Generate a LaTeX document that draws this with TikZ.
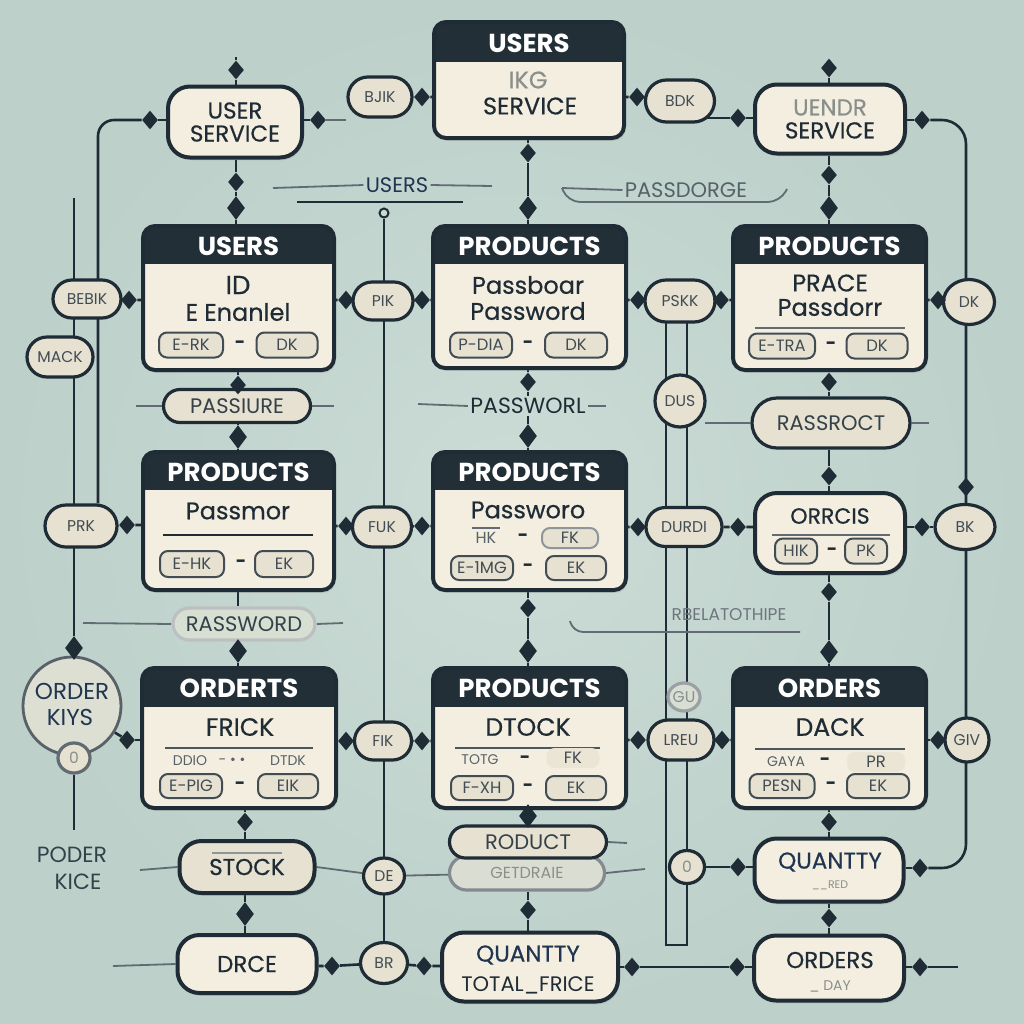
\documentclass[tikz,border=0pt]{standalone}
\usepackage{fontspec}
\setmainfont{Poppins}
\newfontfamily\pmed{Poppins}[FakeBold=0.5]
\usetikzlibrary{shapes.geometric,shapes.misc,shadows}
\definecolor{bgc}{HTML}{C9DAD4}
\definecolor{bgo}{HTML}{BDD0CA}
\definecolor{cream}{HTML}{F4EEE0}
\definecolor{keyc}{HTML}{E6E1D1}
\definecolor{hdr}{HTML}{232F37}
\definecolor{ink}{HTML}{1F2C35}
\definecolor{navy}{HTML}{1F3550}
\definecolor{faint}{HTML}{8A8F8C}
\pgfdeclarelayer{back}
\pgfdeclarelayer{lines}
\pgfsetlayers{back,lines,main}
\newcommand\mktable[7]{%
  \node[tblbox, minimum width={(#4-#2)*0.5pt}, minimum height={(#5-#3)*0.5pt}] (#1) at ({(#2+#4)/2},{(#3+#5)/2}) {};
  \begin{scope}
    \clip[rounded corners=6pt] (#2,#3) rectangle (#4,#5);
    \fill[hdr] (#2,#3) rectangle (#4,#6);
  \end{scope}
  \draw[ink, line width=2pt, rounded corners=6pt] (#2,#3) rectangle (#4,#5);
  \node[hdrtext] (#1h) at ({(#2+#4)/2},{(#3+#6)/2+1}) {#7};
}
\begin{document}
\begin{tikzpicture}[x=0.5pt,y=-0.5pt,
  sz/.style 2 args={minimum width=#1*0.5pt, minimum height=#2*0.5pt},
  conn/.style={draw=ink, line width=1.3pt},
  lite/.style={draw=ink!70, line width=0.9pt},
  dia/.style={diamond, fill=ink, inner sep=0pt, minimum width=8pt, minimum height=9.5pt},
  tip/.style={diamond, fill=ink, inner sep=0pt, minimum width=9pt, minimum height=12pt},
  tblbox/.style={rectangle, fill=cream, rounded corners=6pt, inner sep=0pt, drop shadow={opacity=0.2, shadow xshift=0.8pt, shadow yshift=-1.4pt}},
  hdrtext/.style={text=white, font=\fontsize{13}{14}\selectfont\bfseries, inner sep=0pt},
  btext/.style={text=ink, font=\pmed\fontsize{12}{13}\selectfont, inner sep=0pt},
  dashtxt/.style={text=ink, font=\fontsize{9}{10}\selectfont\bfseries, inner sep=0pt},
  bigpill/.style={rectangle, rounded corners=11pt, draw=ink, line width=2pt, fill=cream, inner sep=0pt, align=center, text=ink, font=\pmed\fontsize{11.5}{11.5}\selectfont, drop shadow={opacity=0.2, shadow xshift=0.8pt, shadow yshift=-1.4pt}},
  midpill/.style={rounded rectangle, draw=ink, line width=1.6pt, fill=keyc, inner sep=0pt, text=ink!90, font=\fontsize{10.5}{11}\selectfont},
  spill/.style={rounded rectangle, draw=ink, line width=1.6pt, fill=keyc, inner sep=0pt, text=ink!85, font=\fontsize{7.8}{8}\selectfont},
  scirc/.style={ellipse, draw=ink, line width=1.6pt, fill=keyc, inner sep=0pt, text=ink!85, font=\fontsize{7.8}{8}\selectfont},
  kpill/.style={rectangle, rounded corners=4pt, draw=ink!85, line width=1pt, fill=keyc, inner sep=0pt, text=ink!85, font=\fontsize{8.2}{9}\selectfont},
  ktext/.style={inner sep=0pt, text=ink!75, font=\fontsize{7}{8}\selectfont},
  lbl/.style={inner sep=1pt, text=navy, font=\fontsize{10.5}{11}\selectfont},
]
\begin{pgfonlayer}{back}
  \shade[inner color=bgc!95!white, outer color=bgo] (0,0) rectangle (1024,1024);
\end{pgfonlayer}
\useasboundingbox (0,0) rectangle (1024,1024);

% ---------- tables ----------
\mktable{ta}{434}{22}{624}{138}{62}{USERS}
\mktable{tb}{143}{226}{334}{370}{264}{USERS}
\mktable{tc}{433}{226}{626}{368}{264}{PRODUCTS}
\mktable{td}{733}{226}{926}{370}{264}{PRODUCTS}
\mktable{te}{143}{452}{334}{590}{490}{PRODUCTS}
\mktable{tf}{433}{452}{626}{590}{490}{PRODUCTS}
\mktable{tg}{142}{668}{336}{808}{707}{ORDERTS}
\mktable{th}{433}{668}{626}{808}{707}{PRODUCTS}
\mktable{ti}{733}{668}{926}{808}{707}{ORDERS}

% table contents
\node[btext, text=faint] (ta1) at (528,80) {IKG};
\node[btext] (ta2) at (530,106) {SERVICE};

\node[btext, font=\pmed\fontsize{13}{14}\selectfont] (tb1) at (238,285) {ID};
\node[btext] (tb2) at (238,312) {E Enanlel};
\node[kpill, sz={64}{25}] (tb3) at (191,345) {E-RK};
\node[dashtxt] (tb4) at (240,345) {-};
\node[kpill, sz={61}{25}] (tb5) at (287,345) {DK};

\node[btext] (tc1) at (528,285) {Passboar};
\node[btext] (tc2) at (528,311) {Password};
\node[kpill, sz={62}{25}] (tc3) at (481,345) {P-DIA};
\node[dashtxt] (tc4) at (528,345) {-};
\node[kpill, sz={62}{25}] (tc5) at (576,345) {DK};

\node[btext] (td1) at (830,283) {PRACE};
\node[btext] (td2) at (830,307) {Passdorr};
\draw[lite] (755,328) -- (905,328);
\node[kpill, sz={66}{25}] (td3) at (782,346) {E-TRA};
\node[dashtxt] (td4) at (831,346) {-};
\node[kpill, sz={61}{25}] (td5) at (877,346) {DK};

\node[btext] (te1) at (238,511) {Passmor};
\draw[ink, line width=1.2pt] (163,535) -- (313,535);
\node[kpill, sz={64}{26}] (te2) at (192,564) {E-HK};
\node[dashtxt] (te3) at (241,564) {-};
\node[kpill, sz={58}{26}] (te4) at (284,564) {EK};

\node[btext] (tf1) at (528,510) {Passworo};
\draw[lite] (472,528) -- (500,528);
\node[ktext, font=\fontsize{8}{9}\selectfont] (tf2) at (486,538) {HK};
\node[dashtxt] (tf3) at (523,538) {-};
\node[kpill, draw=ink!50, sz={56}{20}] (tf4) at (570,538) {FK};
\node[kpill, sz={62}{24}] (tf5) at (482,568) {E-1MG};
\node[dashtxt] (tf6) at (528,568) {-};
\node[kpill, sz={60}{24}] (tf7) at (576,568) {EK};

\node[btext, font=\pmed\fontsize{12.5}{13}\selectfont] (tg1) at (240,727) {FRICK};
\draw[ink!80, line width=1pt] (165,748) -- (313,748);
\node[ktext] (tg2) at (190,761) {DDIO};
\node[ktext] (tg3) at (232,761) {- • •};
\node[ktext] (tg4) at (288,761) {DTDK};
\node[kpill, sz={62}{24}] (tg5) at (191,786) {E-PIG};
\node[dashtxt] (tg6) at (240,786) {-};
\node[kpill, sz={60}{24}] (tg7) at (288,786) {EIK};

\node[btext, font=\pmed\fontsize{12.5}{13}\selectfont] (th1) at (528,727) {DTOCK};
\draw[ink!80, line width=1pt] (455,748) -- (600,748);
\node[ktext] (th2) at (480,760) {TOTG};
\node[dashtxt] (th3) at (525,760) {-};
\node[kpill, draw=none, fill=keyc!70!cream, sz={53}{20}] (th4) at (573,758) {FK};
\node[kpill, sz={62}{24}] (th5) at (482,788) {F-XH};
\node[dashtxt] (th6) at (528,788) {-};
\node[kpill, sz={60}{24}] (th7) at (576,788) {EK};

\node[btext, font=\pmed\fontsize{12.5}{13}\selectfont] (ti1) at (830,727) {DACK};
\draw[ink!80, line width=1pt] (755,749) -- (905,749);
\node[ktext] (ti2) at (786,762) {GAYA};
\node[dashtxt] (ti3) at (825,762) {-};
\node[kpill, draw=none, fill=keyc!70!cream, sz={58}{20}] (ti4) at (876,762) {PR};
\node[kpill, sz={65}{24}] (ti5) at (782,786) {PESN};
\node[dashtxt] (ti6) at (831,786) {-};
\node[kpill, sz={62}{24}] (ti7) at (878,786) {EK};

% ---------- big pills ----------
\node[bigpill, sz={134}{71}] (pus) at (235,122) {USER\\SERVICE};
\node[bigpill, sz={150}{69}] (prs) at (830,119) {\textcolor{faint}{UENDR}\\SERVICE};
\node[bigpill, sz={150}{80}] (pord) at (830,533) {};
\node[btext, font=\pmed\fontsize{11}{12}\selectfont] (po1) at (830,516) {ORRCIS};
\draw[lite] (772,535) -- (890,535);
\node[kpill, sz={42}{25}] (po2) at (796,551) {HIK};
\node[dashtxt] (po3) at (832,552) {-};
\node[kpill, sz={42}{25}] (po4) at (866,551) {PK};
\node[bigpill, sz={149}{63}] (pqu) at (829,870) {};
\node[btext, text=navy, font=\pmed\fontsize{11.5}{12}\selectfont] (pq1) at (830,862) {QUANTTY};
\node[ktext, text=faint, font=\fontsize{5.5}{6}\selectfont] (pq2) at (830,885) {\_\_RED};
\node[bigpill, sz={150}{65}] (pos) at (829,968) {};
\node[btext, font=\pmed\fontsize{11.5}{12}\selectfont] (pos1) at (830,960) {ORDERS};
\node[ktext, text=faint] (pos2) at (830,986) {\_ DAY};
\node[bigpill, sz={176}{69}] (pqt) at (530,967) {};
\node[btext, text=navy, font=\pmed\fontsize{11.5}{12}\selectfont] (pt1) at (528,955) {QUANTTY};
\node[btext, font=\fontsize{10.5}{11}\selectfont] (pt2) at (528,985) {TOTAL\_FRICE};
\node[bigpill, sz={139}{58}] (pdr) at (247,964) {DRCE};
\node[bigpill, fill=keyc, sz={135}{52}] (pst) at (247,867) {STOCK};
\draw[lite, draw=ink!50] (212,853) -- (282,853);
\node[midpill, draw=ink!55, fill=keyc!60!bgc, sz={155}{34}, text=faint, font=\fontsize{8}{9}\selectfont] (prd2) at (527,873) {GETDRAIE};
\node[midpill, fill=keyc, sz={157}{32}, font=\fontsize{10.5}{11}\selectfont] (prd) at (528,842) {RODUCT};

% ---------- label pills ----------
\node[midpill, sz={147}{33}] (lpa) at (237,406) {PASSIURE};
\node[midpill, sz={158}{50}] (lra) at (831,423) {RASSROCT};
\node[midpill, draw=ink!30, fill=keyc!50!bgc, sz={142}{32}] (lrw) at (244,624) {RASSWORD};

% ---------- small key pills ----------
\node[spill, sz={64}{40}] (sbjik) at (380,97) {BJIK};
\node[spill, sz={69}{42}] (sbdk) at (680,101) {BDK};
\node[spill, sz={68}{38}] (sbebik) at (87,299) {BEBIK};
\node[spill, sz={66}{40}] (smack) at (60,357) {MACK};
\node[spill, sz={60}{38}] (spik) at (383,301) {PIK};
\node[spill, sz={70}{42}] (spskk) at (680,301) {PSKK};
\node[spill, sz={72}{42}] (sprk) at (81,526) {PRK};
\node[spill, sz={59}{40}] (sfuk) at (382,527) {FUK};
\node[spill, sz={76}{39}] (sdurdi) at (684,527) {DURDI};
\node[spill, sz={57}{38}] (sfik) at (383,741) {FIK};
\node[spill, sz={66}{40}] (slreu) at (681,740) {LREU};

% ---------- circles ----------
\node[scirc, sz={51}{45}] (cdk) at (969,302) {DK};
\node[scirc, sz={50}{52}] (cdus) at (680,401) {DUS};
\node[scirc, sz={60}{45}] (cbk) at (965,527) {BK};
\node[scirc, sz={44}{44}] (cgiv) at (967,740) {GIV};
\node[scirc, draw=ink!45, fill=keyc!50!bgc, text=faint, sz={32}{28}] (cgu) at (684,697) {GU};
\node[scirc, sz={41}{36}] (cde) at (384,876) {DE};
\node[scirc, sz={47}{41}] (cbr) at (384,963) {BR};
\node[scirc, text=faint, sz={35}{33}] (czero) at (687,867) {0};
\node[circle, draw=ink!75, line width=1.4pt, fill=keyc!70!bgc, minimum size=49pt, inner sep=0pt] (cok) at (72,706) {};
\node[lbl, font=\fontsize{11.5}{12}\selectfont] (cok1) at (72,691) {ORDER};
\node[lbl, font=\fontsize{11.5}{12}\selectfont] (cok2) at (70,717) {KIYS};
\node[scirc, draw=ink!70, text=faint, sz={32}{30}] (cokz) at (74,758) {0};
\node[circle, draw=ink, line width=1pt, fill=bgc, minimum size=4.5pt, inner sep=0pt] (cus) at (384,213) {};

% ---------- free labels ----------
\node[lbl] (lus) at (397,185) {USERS};
\node[lbl, text=ink!75] (lpd) at (686,190) {PASSDORGE};
\node[lbl, text=ink, fill=bgc, inner sep=1pt, font=\fontsize{11}{12}\selectfont] (lpw) at (528,406) {PASSWORL};
\node[lbl, text=ink!65, font=\fontsize{8.5}{9}\selectfont] (lrel) at (729,615) {RBELATOTHIPE};
\node[lbl, text=ink!90, font=\fontsize{11}{12}\selectfont] (lpk1) at (72,855) {PODER};
\node[lbl, text=ink!90, font=\fontsize{11}{12}\selectfont] (lpk2) at (78,882) {KICE};

% ---------- diamonds ----------
\node[dia] (d1) at (236,70) {};
\node[dia] (d2) at (150,120) {};
\node[dia] (d3) at (318,120) {};
\node[dia] (d4) at (422,97) {};
\node[dia] (d5) at (637,97) {};
\node[dia] (d6) at (738,118) {};
\node[dia] (d7) at (829,68) {};
\node[dia] (d8) at (922,120) {};
\node[dia] (d9) at (236,182) {};
\node[tip] (t9) at (236,208) {};
\node[dia] (d10) at (528,153) {};
\node[tip] (t10) at (528,208) {};
\node[dia] (d11) at (829,175) {};
\node[tip] (t11) at (829,208) {};
\node[dia] (d12) at (129,300) {};
\node[dia] (d13) at (346,300) {};
\node[dia] (d14) at (422,300) {};
\node[dia] (d15) at (638,300) {};
\node[dia] (d16) at (721,300) {};
\node[dia] (d17) at (938,300) {};
\node[dia] (d18) at (238,385) {};
\node[tip] (t18) at (238,437) {};
\node[dia] (d19) at (528,382) {};
\node[tip] (t19) at (528,436) {};
\node[dia] (d20) at (829,382) {};
\node[dia] (d21) at (829,476) {};
\node[dia] (d22) at (127,525) {};
\node[dia] (d23) at (346,526) {};
\node[dia] (d24) at (422,526) {};
\node[dia] (d25) at (638,527) {};
\node[dia] (d26) at (738,527) {};
\node[dia] (d27) at (922,527) {};
\node[dia] (d28) at (966,487) {};
\node[tip] (t29) at (238,651) {};
\node[dia] (d30) at (528,608) {};
\node[tip] (t30) at (528,651) {};
\node[dia] (d31) at (829,592) {};
\node[tip] (t31) at (829,652) {};
\node[tip] (t32) at (74,648) {};
\node[dia] (d33) at (127,740) {};
\node[dia] (d34) at (346,741) {};
\node[dia] (d35) at (422,741) {};
\node[dia] (d36) at (638,740) {};
\node[dia] (d37) at (722,740) {};
\node[dia] (d38) at (938,740) {};
\node[dia] (d39) at (245,822) {};
\node[tip] (t40) at (245,914) {};
\node[tip] (t41) at (528,816) {};
\node[dia] (d42) at (528,910) {};
\node[dia] (d43) at (829,822) {};
\node[dia] (d44) at (829,918) {};
\node[dia] (d45) at (738,867) {};
\node[dia] (d46) at (920,868) {};
\node[dia] (d47) at (332,966) {};
\node[dia] (d48) at (424,966) {};
\node[dia] (d49) at (632,967) {};
\node[dia] (d50) at (737,967) {};
\node[dia] (d51) at (920,967) {};

% ---------- free ends ----------
\coordinate (stub) at (236,57);
\coordinate (d3e) at (346,120);
\coordinate (lA) at (98,120);
\coordinate (lB) at (74,198);
\coordinate (bdkq) at (702,118);
\coordinate (rA) at (966,120);
\coordinate (rB) at (966,868);
\coordinate (uA) at (666,322);
\coordinate (uB) at (666,945);
\coordinate (uC) at (687,945);
\coordinate (uD) at (687,322);
\coordinate (lusL) at (273,188);
\coordinate (lusR) at (492,186);
\coordinate (lusU1) at (297,202);
\coordinate (lusU2) at (463,202);
\coordinate (pdL) at (562,188);
\coordinate (pdB1) at (568,202);
\coordinate (pdB2) at (780,202);
\coordinate (pdR) at (787,189);
\coordinate (lpaL) at (136,406);
\coordinate (lpaR) at (334,406);
\coordinate (lpwL) at (418,404);
\coordinate (lpwR) at (606,406);
\coordinate (lraL) at (705,423);
\coordinate (lraR) at (929,423);
\coordinate (lrwL) at (83,623);
\coordinate (lrwR) at (343,623);
\coordinate (relA) at (570,621);
\coordinate (relB) at (573,632);
\coordinate (relC) at (800,632);
\coordinate (okend) at (74,830);
\coordinate (stL) at (140,870);
\coordinate (drL) at (113,966);
\coordinate (prdR1) at (627,843);
\coordinate (prdR2) at (645,869);
\coordinate (posR) at (958,967);

% ---------- connectors ----------
\begin{pgfonlayer}{lines}
  \draw[conn] (cus) -- (cbr);
  \draw[conn, line width=1.1pt] (uA) -- (uB) -- (uC) -- (uD);
  \draw[conn, rounded corners=12pt] (d8) -- (rA) -- (rB) -- (d46);
  \draw[conn, rounded corners=8pt] (d2) -- (lA) -- (lA |- sprk.north);
  \draw[conn] (lB) -- (t32);
  \draw[conn] (t32) -- (t32 |- cok.north);
  \draw[conn] (cok) -- (d33);
  \draw[conn] (cokz) -- (okend);
  \draw[conn] (d1) -- (stub);
  \draw[conn] (d1) -- (d1 |- pus.north);
  \draw[conn] (d2) -- (d2 -| pus.west);
  \draw[conn] (d3 -| pus.east) -- (d3);
  \draw[lite] (d3) -- (d3e);
  \draw[conn] (sbjik) -- (d4) -- (d4 -| ta.west);
  \draw[conn] (ta.east |- d5) -- (d5) -- (sbdk);
  \draw[conn] (bdkq) -- (d6) -- (d6 -| prs.west);
  \draw[conn] (d7) -- (d7 |- prs.north);
  \draw[conn] (d8 -| prs.east) -- (d8);
  \draw[conn] (d9 |- pus.south) -- (d9) -- (t9) -- (t9 |- tb.north);
  \draw[conn] (d10 |- ta.south) -- (d10) -- (t10) -- (t10 |- tc.north);
  \draw[conn] (d11 |- prs.south) -- (d11) -- (t11) -- (t11 |- td.north);
  \draw[conn] (sbebik) -- (d12) -- (d12 -| tb.west);
  \draw[conn] (tb.east |- d13) -- (d13) -- (spik) -- (d14) -- (d14 -| tc.west);
  \draw[conn] (tc.east |- d15) -- (d15) -- (spskk) -- (d16) -- (d16 -| td.west);
  \draw[conn] (td.east |- d17) -- (d17) -- (cdk);
  \draw[conn] (d18 |- tb.south) -- (d18) -- (d18 |- lpa.north);
  \draw[conn] (d18 |- lpa.south) -- (t18) -- (t18 |- te.north);
  \draw[lite] (lpaL) -- (lpa.west);
  \draw[lite] (lpa.east) -- (lpaR);
  \draw[conn] (d19 |- tc.south) -- (d19) -- (t19) -- (t19 |- tf.north);
  \draw[lite] (lpwL) -- (lpw.west);
  \draw[lite] (lpw.east) -- (lpwR);
  \draw[conn] (d20 |- td.south) -- (d20) -- (d20 |- lra.north);
  \draw[conn] (d21 |- lra.south) -- (d21) -- (d21 |- pord.north);
  \draw[lite] (lraL) -- (lra.west);
  \draw[lite] (lra.east) -- (lraR);
  \draw[conn] (sprk) -- (d22) -- (d22 -| te.west);
  \draw[conn] (te.east |- d23) -- (d23) -- (sfuk) -- (d24) -- (d24 -| tf.west);
  \draw[conn] (tf.east |- d25) -- (d25) -- (sdurdi) -- (d26) -- (d26 -| pord.west);
  \draw[conn] (pord.east |- d27) -- (d27) -- (cbk);
  \draw[conn] (t29 |- te.south) -- (t29 |- lrw.north);
  \draw[conn] (t29 |- lrw.south) -- (t29) -- (t29 |- tg.north);
  \draw[lite] (lrwL) -- (lrw.west);
  \draw[lite] (lrw.east) -- (lrwR);
  \draw[conn] (d30 |- tf.south) -- (d30) -- (t30) -- (t30 |- th.north);
  \draw[conn] (d31 |- pord.south) -- (d31) -- (t31) -- (t31 |- ti.north);
  \draw[conn] (d33) -- (d33 -| tg.west);
  \draw[conn] (tg.east |- d34) -- (d34) -- (sfik) -- (d35) -- (d35 -| th.west);
  \draw[conn] (th.east |- d36) -- (d36) -- (slreu) -- (d37) -- (d37 -| ti.west);
  \draw[conn] (ti.east |- d38) -- (d38) -- (cgiv);
  \draw[conn] (d39 |- tg.south) -- (d39) -- (d39 |- pst.north);
  \draw[conn] (t40 |- pst.south) -- (t40) -- (t40 |- pdr.north);
  \draw[conn] (t41 |- th.south) -- (t41) -- (t41 |- prd.north);
  \draw[conn] (d42 |- prd2.south) -- (d42) -- (d42 |- pqt.north);
  \draw[conn] (d43 |- ti.south) -- (d43) -- (d43 |- pqu.north);
  \draw[conn] (d44 |- pqu.south) -- (d44) -- (d44 |- pos.north);
  \draw[conn] (czero) -- (d45) -- (d45 -| pqu.west);
  \draw[conn] (pqu.east |- d46) -- (d46);
  \draw[lite] (stL) -- (pst.west);
  \draw[lite] (pst.east) -- (cde) -- (prd2);
  \draw[lite] (prd.east) -- (prdR1);
  \draw[lite] (prd2.east) -- (prdR2);
  \draw[lite] (drL) -- (pdr.west);
  \draw[conn] (pdr.east |- d47) -- (d47) -- (cbr) -- (d48) -- (d48 -| pqt.west);
  \draw[conn] (pqt.east |- d49) -- (d49) -- (d50) -- (d50 -| pos.west);
  \draw[conn] (pos.east |- d51) -- (d51) -- (posR);
  \draw[lite] (lusL) -- (lus.west);
  \draw[lite] (lus.east) -- (lusR);
  \draw[conn, line width=1pt] (lusU1) -- (lusU2);
  \draw[lite] (pdL) -- (lpd.west);
  \draw[lite, rounded corners=6pt] (pdL) -- (pdB1) -- (pdB2) -- (pdR);
  \draw[lite, rounded corners=5pt] (relA) -- (relB) -- (relC);
\end{pgfonlayer}
\end{tikzpicture}
\end{document}
